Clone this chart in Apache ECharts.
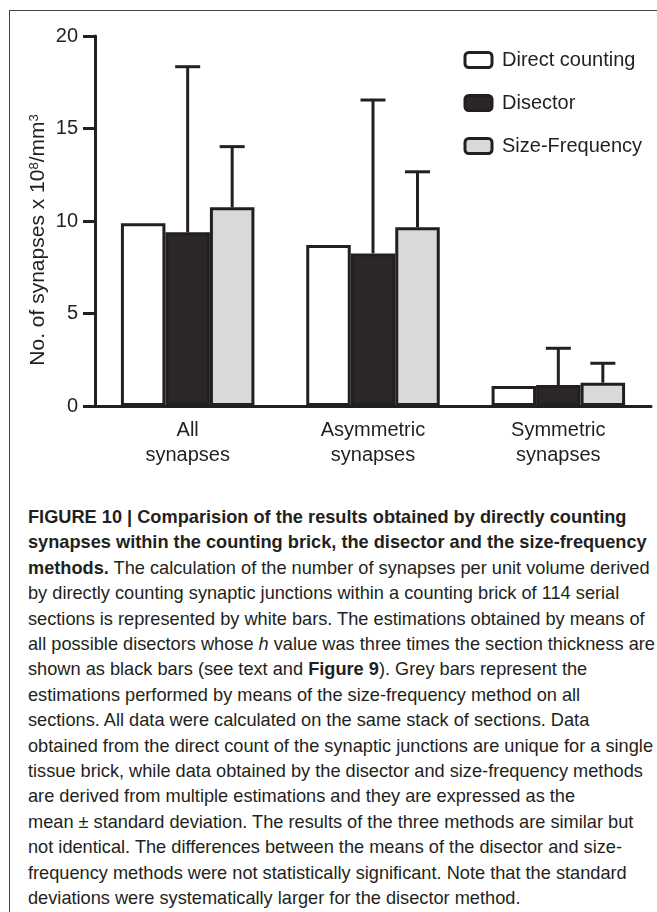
<!DOCTYPE html>
<html>
<head>
<meta charset="utf-8">
<script src="https://cdn.jsdelivr.net/npm/echarts@6/dist/echarts.min.js"></script>
<style>
  html, body { margin: 0; padding: 0; background: #fff; }
  #page { position: relative; width: 657px; height: 912px; overflow: hidden; }
  #frame { position: absolute; left: 9px; top: 10px; right: -2px; bottom: -2px;
           border-left: 1px solid #444; border-top: 1px solid #444; }
  #chart { position: absolute; left: 0; top: 0; width: 657px; height: 500px; }
  #caption { position: absolute; left: 28px; top: 504px; color: #231f20;
             font-family: "Liberation Sans", Arial, sans-serif; font-size: 18.5px;
             line-height: 25.4px; white-space: nowrap; transform-origin: 0 0; }
</style>
</head>
<body>
<div id="page">
  <div id="frame"></div>
  <div id="chart"></div>
  <div id="caption">
    <div><b>FIGURE 10 | Comparision of the results obtained by directly counting</b></div>
    <div><b>synapses within the counting brick, the disector and the size-frequency</b></div>
    <div><b>methods.</b> The calculation of the number of synapses per unit volume derived</div>
    <div>by directly counting synaptic junctions within a counting brick of 114 serial</div>
    <div>sections is represented by white bars. The estimations obtained by means of</div>
    <div id="widest">all possible disectors whose <i>h</i> value was three times the section thickness are</div>
    <div>shown as black bars (see text and <b>Figure 9</b>). Grey bars represent the</div>
    <div>estimations performed by means of the size-frequency method on all</div>
    <div>sections. All data were calculated on the same stack of sections. Data</div>
    <div>obtained from the direct count of the synaptic junctions are unique for a single</div>
    <div>tissue brick, while data obtained by the disector and size-frequency methods</div>
    <div>are derived from multiple estimations and they are expressed as the</div>
    <div>mean ± standard deviation. The results of the three methods are similar but</div>
    <div>not identical. The differences between the means of the disector and size-</div>
    <div>frequency methods were not statistically significant. Note that the standard</div>
    <div>deviations were systematically larger for the disector method.</div>
  </div>
</div>
<script>
var categories = ['All\nsynapses', 'Asymmetric\nsynapses', 'Symmetric\nsynapses'];
var directCounting = [9.88, 8.7, 1.08];
var disectorMean = [9.39, 8.25, 1.13];
var disectorSD = [8.95, 8.29, 1.99];
var sizeFreqMean = [10.74, 9.66, 1.26];
var sizeFreqSD = [3.28, 3.0, 1.05];
var yTicks = [0, 5, 10, 15, 20];

// fit the caption to the column width, the original uses a condensed face
var cap = document.getElementById('caption');
var w = document.getElementById('widest').getBoundingClientRect().width;
cap.style.transform = 'scaleX(' + (627 / w) + ')';

var ink = '#231f20';
var font = '"Liberation Sans", Arial, sans-serif';
var barW = 44.5;

function errorData(mean, sd) {
    var d = [];
    for (var i = 0; i < mean.length; i++) d.push([i, mean[i], sd[i]]);
    return d;
}

function errorBar(offset) {
    return function (params, api) {
        var c = api.value(0);
        var base = api.coord([c, api.value(1)]);
        var top = api.coord([c, api.value(1) + api.value(2)]);
        var x = base[0] + offset;
        var st = { stroke: ink, lineWidth: 3 };
        return {
            type: 'group',
            children: [
                { type: 'line', shape: { x1: x, y1: base[1], x2: x, y2: top[1] }, style: st },
                { type: 'line', shape: { x1: x - 12.5, y1: top[1], x2: x + 12.5, y2: top[1] }, style: st }
            ]
        };
    };
}

var myChart = echarts.init(document.getElementById('chart'));
var option = {
    animation: false,
    textStyle: { fontFamily: font, color: ink },
    grid: { left: 95, right: 6, top: 36, bottom: 94 },
    legend: {
        orient: 'vertical',
        left: 458.5,
        top: 45,
        itemWidth: 27,
        itemHeight: 15,
        itemGap: 23,
        icon: 'roundRect',
        itemStyle: { borderWidth: 3 },
        data: ['Direct counting', 'Disector', 'Size-Frequency'],
        textStyle: { fontSize: 20, color: ink, fontFamily: font, padding: [0, 0, 0, 5] }
    },
    xAxis: {
        type: 'category',
        data: categories,
        axisLine: { lineStyle: { color: ink, width: 3 } },
        axisTick: { show: false },
        axisLabel: { fontSize: 20, color: ink, lineHeight: 25, margin: 12 }
    },
    yAxis: {
        type: 'value',
        min: yTicks[0],
        max: yTicks[yTicks.length - 1],
        interval: 5,
        splitLine: { show: false },
        axisLine: { show: true, lineStyle: { color: ink, width: 3 } },
        axisTick: { show: true, length: 12, lineStyle: { width: 3, color: ink } },
        axisLabel: { fontSize: 20, color: ink, margin: 17 }
    },
    graphic: [{
        type: 'text',
        x: 38,
        y: 240,
        rotation: Math.PI / 2,
        style: {
            text: '{n|No. of synapses x 10}{s|8}{n|/mm}{s|3}',
            align: 'center',
            verticalAlign: 'middle',
            fill: ink,
            rich: {
                n: { fontSize: 21, fontFamily: font, fill: ink },
                s: { fontSize: 13, fontFamily: font, fill: ink, verticalAlign: 'top', padding: [0, 0, 6, 0] }
            }
        }
    }],
    series: [
        {
            name: 'Direct counting', type: 'bar', data: directCounting,
            barWidth: barW, barGap: 0,
            itemStyle: { color: '#ffffff', borderColor: ink, borderWidth: 3 }
        },
        {
            name: 'Disector', type: 'bar', data: disectorMean,
            barWidth: barW, barGap: 0,
            itemStyle: { color: '#2b2728', borderColor: ink, borderWidth: 3 }
        },
        {
            name: 'Size-Frequency', type: 'bar', data: sizeFreqMean,
            barWidth: barW, barGap: 0,
            itemStyle: { color: '#d9d9db', borderColor: ink, borderWidth: 3 }
        },
        {
            type: 'custom', z: 3, renderItem: errorBar(0),
            data: errorData(disectorMean, disectorSD)
        },
        {
            type: 'custom', z: 3, renderItem: errorBar(barW),
            data: errorData(sizeFreqMean, sizeFreqSD)
        }
    ]
};
myChart.setOption(option, true);

window.onresize = function () {
    myChart.resize();
};
</script>
</body>
</html>
